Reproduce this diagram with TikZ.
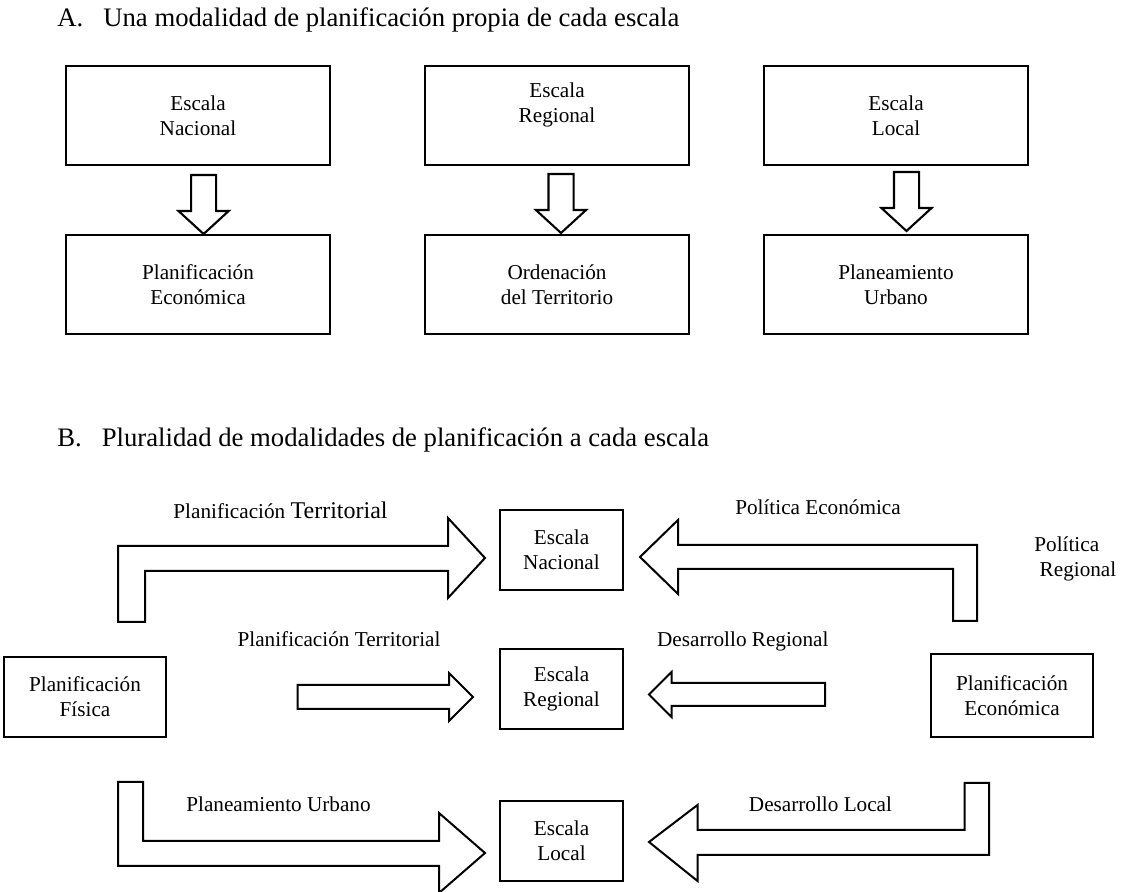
\documentclass[tikz,border=0pt]{standalone}
\usepackage{fontspec}
\setmainfont{Liberation Serif}
\usepackage{tikz}
\usetikzlibrary{arrows.meta, positioning, calc, shapes.arrows}

\begin{document}
\begin{tikzpicture}[x=0.5pt, y=-0.5pt,
    cajaA/.style={draw, line width=1.1pt, minimum width=132pt, minimum height=49.5pt, inner sep=0pt, outer sep=0pt, align=center, font=\fontsize{10.6}{12.5}\selectfont},
    cajaB/.style={draw, line width=0.55pt, minimum width=61.5pt, minimum height=40pt, inner sep=0pt, outer sep=0pt, align=center, font=\fontsize{10.6}{12.5}\selectfont},
    flechaA/.style={single arrow, draw, line width=1.05pt, rotate=-90, anchor=tail, minimum height=29.5pt, inner xsep=0pt, inner ysep=5.75pt, single arrow head extend=6.25pt, single arrow tip angle=95, outer sep=0pt},
    flechaB/.style={draw, line width=1pt, line join=miter},
    rotulo/.style={anchor=base, inner sep=0pt, font=\fontsize{10.6}{12.5}\selectfont},
    titulo/.style={anchor=base west, inner sep=0pt, font=\fontsize{13.35}{16}\selectfont}]
    \useasboundingbox (0,0) rectangle (1121,892);

    % A. Una modalidad por escala
    \node[titulo] (tituloA) at (57,27) {A.\hspace{10pt}Una modalidad de planificación propia de cada escala};

    \node[cajaA] (nacA) at (198,115.5) {Escala\\Nacional};
    \node[cajaA, right=47.5pt of nacA] (regA) {Escala\\Regional\\\mbox{}};
    \node[cajaA, right=37.5pt of regA] (locA) {Escala\\Local};

    \node[cajaA, below=35pt of nacA] (econA) {Planificación\\Económica};
    \node[cajaA, below=35pt of regA] (ordA) {Ordenación\\del Territorio};
    \node[cajaA, below=35pt of locA] (urbA) {Planeamiento\\Urbano};

    % flechas gruesas hacia abajo
    \node[flechaA] (fA1) at ($(nacA.south)+(5.6,10)$) {};
    \node[flechaA] (fA2) at ($(regA.south)+(4,9)$) {};
    \node[flechaA] (fA3) at ($(locA.south)+(10.5,7)$) {};

    % B. Pluralidad de modalidades
    \node[titulo] (tituloB) at (57,447) {B.\hspace{10pt}Pluralidad de modalidades de planificación a cada escala};

    \node[cajaB] (nacB) at (561.5,550) {Escala\\Nacional};
    \node[cajaB, below=29.5pt of nacB] (regB) {Escala\\Regional};
    \node[cajaB, below=36pt of regB] (locB) {Escala\\Local};
    \node[cajaB, minimum width=81pt] (fis) at (85,697) {Planificación\\Física};
    \node[cajaB, minimum width=81pt, minimum height=41.5pt] (econB) at (1012,695.5) {Planificación\\Económica};

    % flechas en escuadra (nivel nacional)
    \draw[flechaB] ($(nacB.west)+(-15,8)$) -- ++(-37,-40) -- ++(0,28) -- ++(-330,0) -- ++(0,76)
        -- ++(27,0) -- ++(0,-51) -- ++(303,0) -- ++(0,27) -- cycle;
    \draw[flechaB] ($(nacB.east)+(17,7)$) -- ++(38,-37) -- ++(0,25) -- ++(299,0) -- ++(0,76)
        -- ++(-24,0) -- ++(0,-52) -- ++(-275,0) -- ++(0,25) -- cycle;

    % flechas rectas (nivel regional)
    \node[single arrow, draw, line width=1pt, anchor=tip, minimum height=87.75pt, inner xsep=0pt, inner ysep=5.5pt, single arrow head extend=6pt, outer sep=0pt] (fB1) at ($(regB.west)+(-27,8)$) {};
    \node[single arrow, draw, line width=1pt, rotate=180, anchor=tip, minimum height=88pt, inner xsep=0pt, inner ysep=5.25pt, single arrow head extend=5.5pt, outer sep=0pt] (fB2) at ($(regB.east)+(26,5.5)$) {};

    % flechas en escuadra (nivel local)
    \draw[flechaB] ($(locB.west)+(-15,12)$) -- ++(-46,-40) -- ++(0,28) -- ++(-296,0) -- ++(0,-59)
        -- ++(-25,0) -- ++(0,84) -- ++(321,0) -- ++(0,27) -- cycle;
    \draw[flechaB] ($(locB.east)+(26,1)$) -- ++(48.5,-37) -- ++(0,25) -- ++(267,0) -- ++(0,-47)
        -- ++(24.5,0) -- ++(0,72) -- ++(-291.5,0) -- ++(0,26) -- cycle;

    % rótulos
    \node[rotulo] (lTerr1) at (280.5,519) {Planificación {\fontsize{12}{14}\selectfont Territorial}};
    \node[rotulo] (lPolE) at (818,515) {Política Económica};
    \node[rotulo, anchor=north west, align=left] (lPolR) at (1034,536) {Política\\\ Regional};
    \node[rotulo] (lTerr2) at (339,647) {Planificación Territorial};
    \node[rotulo] (lDesR) at (742.8,647) {Desarrollo Regional};
    \node[rotulo] (lUrb) at (278.5,812) {Planeamiento Urbano};
    \node[rotulo] (lDesL) at (820.5,812) {Desarrollo Local};
\end{tikzpicture}
\end{document}
